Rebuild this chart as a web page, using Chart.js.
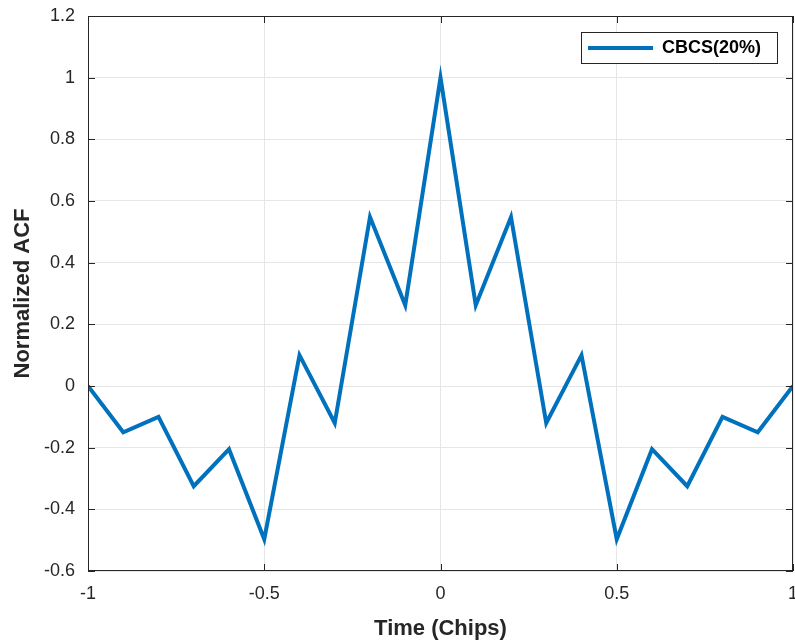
<!DOCTYPE html>
<html>
<head>
<meta charset="utf-8">
<script src="https://cdn.jsdelivr.net/npm/chart.js@4.4.0/dist/chart.umd.min.js"></script>
<style>
  html, body { margin: 0; padding: 0; background: #fff; }
  #wrap { width: 795px; height: 644px; }
</style>
</head>
<body>
<div id="wrap"><canvas id="acfChart" width="795" height="644"></canvas></div>
<script>
const delays = [-1, -0.9, -0.8, -0.7, -0.6, -0.5, -0.4, -0.3, -0.2, -0.1, 0,
                0.1, 0.2, 0.3, 0.4, 0.5, 0.6, 0.7, 0.8, 0.9, 1];
const acfValues = [0, -0.15, -0.10, -0.325, -0.205, -0.497, 0.10, -0.12, 0.548, 0.262, 1.0,
                   0.262, 0.548, -0.12, 0.10, -0.497, -0.205, -0.325, -0.10, -0.15, 0];
const seriesLabel = 'CBCS(20%)';
const xTicks = [-1, -0.5, 0, 0.5, 1];
const yTicks = [-0.6, -0.4, -0.2, 0, 0.2, 0.4, 0.6, 0.8, 1, 1.2];

const lineColor = '#0072BD';
const axisColor = '#262626';

// box around the axes, inward ticks and the floating legend
const boxPlugin = {
    id: 'boxPlugin',
    afterDraw(chart) {
        const c = chart.ctx;
        const a = chart.chartArea;
        const xs = chart.scales.x, ys = chart.scales.y;
        c.save();
        c.strokeStyle = axisColor;
        c.lineWidth = 1;
        c.strokeRect(a.left + 0.5, a.top + 0.5, a.right - a.left - 1, a.bottom - a.top - 1);
        c.beginPath();
        xTicks.forEach(v => {
            const px = Math.round(xs.getPixelForValue(v)) + 0.5;
            c.moveTo(px, a.bottom); c.lineTo(px, a.bottom - 7);
            c.moveTo(px, a.top); c.lineTo(px, a.top + 7);
        });
        yTicks.forEach(v => {
            const py = Math.round(ys.getPixelForValue(v)) + 0.5;
            c.moveTo(a.left, py); c.lineTo(a.left + 7, py);
            c.moveTo(a.right, py); c.lineTo(a.right - 7, py);
        });
        c.stroke();

        // legend
        const lx = 581, ly = 32, lw = 196, lh = 31;
        c.fillStyle = '#fff';
        c.fillRect(lx, ly, lw, lh);
        c.strokeStyle = axisColor;
        c.strokeRect(lx + 0.5, ly + 0.5, lw, lh);
        c.strokeStyle = lineColor;
        c.lineWidth = 4;
        c.beginPath();
        c.moveTo(lx + 7, ly + lh / 2 + 0.5);
        c.lineTo(lx + 72, ly + lh / 2 + 0.5);
        c.stroke();
        c.fillStyle = '#000';
        c.font = 'bold 18px "Liberation Sans", Arial, sans-serif';
        c.textBaseline = 'middle';
        c.fillText(chart.data.datasets[0].label, lx + 81, ly + lh / 2 + 1);
        c.restore();
    }
};

const tickFont = { family: '"Liberation Sans", Arial, sans-serif', size: 18 };
const titleFont = { family: '"Liberation Sans", Arial, sans-serif', size: 22, weight: 'bold' };

new Chart(document.getElementById('acfChart'), {
    type: 'line',
    data: {
        datasets: [{
            label: seriesLabel,
            data: delays.map((d, i) => ({ x: d, y: acfValues[i] })),
            borderColor: lineColor,
            borderWidth: 4,
            pointRadius: 0,
            tension: 0,
            fill: false
        }]
    },
    options: {
        responsive: false,
        animation: false,
        layout: { padding: { left: 0, right: 2, top: 16, bottom: 0 } },
        plugins: {
            legend: { display: false },
            tooltip: { enabled: false }
        },
        scales: {
            x: {
                type: 'linear',
                min: -1, max: 1,
                afterBuildTicks: s => { s.ticks = xTicks.map(v => ({ value: v })); },
                afterFit: s => { s.height = 73; s.paddingLeft = 0; s.paddingRight = 0; },
                ticks: { color: axisColor, font: tickFont, maxRotation: 0, padding: 12,
                         callback: v => String(v) },
                grid: { color: '#e6e6e6', drawTicks: false },
                border: { display: false },
                title: { display: true, text: 'Time (Chips)', color: axisColor, font: titleFont, padding: { top: 4, bottom: 2 } }
            },
            y: {
                type: 'linear',
                min: -0.6, max: 1.2,
                afterBuildTicks: s => { s.ticks = yTicks.map(v => ({ value: v })); },
                afterFit: s => { s.width = 88; s.paddingTop = 0; s.paddingBottom = 0; },
                ticks: { color: axisColor, font: tickFont, padding: 13,
                         callback: v => String(v) },
                grid: { color: '#e6e6e6', drawTicks: false },
                border: { display: false },
                title: { display: true, text: 'Normalized ACF', color: axisColor, font: titleFont, padding: { top: 10, bottom: 4 } }
            }
        }
    },
    plugins: [boxPlugin]
});
</script>
</body>
</html>
